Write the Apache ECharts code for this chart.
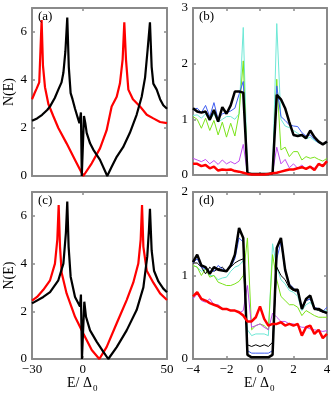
<!DOCTYPE html>
<html>
<head>
<meta charset="utf-8">
<script src="https://cdn.jsdelivr.net/npm/echarts@6/dist/echarts.min.js"></script>
<style>
  html, body { margin: 0; padding: 0; background: #fff; }
  #chart { width: 334px; height: 400px; }
</style>
</head>
<body>
<div id="chart"></div>
<script>
// panel (a) and (c): [E, N(E)] pairs
const aRed = [[-30, 3.2], [-28.5, 3.45], [-27.2, 3.65], [-25.7, 3.9], [-25, 5.2], [-24.3, 6.5], [-23.5, 4.6], [-22.3, 3.7],
  [-20.3, 3.0], [-17.4, 2.5], [-14.4, 2.0], [-9.5, 1.36], [-4.5, 0.67], [0.4, 0], [5.4, 0.53], [10.3, 1.15],
  [14.2, 1.9], [17.2, 2.9], [20.2, 3.3], [22.1, 3.85], [23.7, 4.85], [24.7, 6.4], [25.7, 4.85], [27.1, 3.6],
  [29.8, 3.2], [34, 2.9], [38, 2.55], [41.9, 2.4], [45.9, 2.25], [50, 2.2]];
const aBlack = [[-30, 2.3], [-27, 2.4], [-24, 2.55], [-21, 2.75], [-19.3, 2.9], [-16.5, 3.25], [-14.4, 3.6], [-12.5, 3.9],
  [-11.4, 4.3], [-10.2, 5.2], [-9.1, 6.6], [-8.2, 4.55], [-7.1, 3.45], [-6, 3.2], [-4.5, 2.8], [-3, 2.45],
  [-1.9, 2.2], [-1.5, 2.2], [-1.0, 2.65], [-0.5, 0], [0.3, 0], [0.8, 2.5], [1.6, 2.2], [2.4, 1.8], [4.4, 1.36],
  [6.3, 1.1], [10.3, 0.67], [14.6, 0], [17, 0.35], [20.2, 0.8], [24, 1.2], [28, 1.8], [32, 2.55], [35, 3.3],
  [37, 4.1], [38.5, 5.25], [39.9, 6.4], [40.9, 4.55], [41.9, 3.85], [43.9, 3.6], [45.9, 3.2], [47.8, 2.95], [50, 2.8]];
const cRed = [[-30, 2.45], [-27, 2.6], [-23.3, 2.9], [-19.3, 3.3], [-16.4, 4.0], [-15, 5.0], [-14.2, 6.45], [-13.4, 4.7],
  [-12.4, 3.6], [-9.5, 2.75], [-4.5, 1.77], [0.4, 1.07], [5.4, 0.38], [9.9, 0], [14.2, 0.5], [20.2, 1.5],
  [26.1, 2.47], [30, 3.2], [33, 4.0], [34.4, 5.0], [35.2, 6.45], [36, 4.7], [38, 3.7], [41.9, 3.2], [45.9, 2.75], [50, 2.47]];
const cBlack = [[-30, 2.33], [-23.3, 2.6], [-19.3, 2.8], [-14.4, 3.3], [-11.4, 4.0], [-9.9, 5.3], [-9.1, 6.6], [-8.3, 4.7],
  [-7.1, 3.45], [-4.5, 2.6], [-1.55, 2.2], [-1.0, 2.7], [-0.4, 0], [0.4, 0], [1.0, 2.4], [2.0, 1.77], [4.4, 1.2],
  [8.3, 0.73], [12.3, 0.3], [15.2, 0], [20.2, 0.5], [26.1, 1.2], [32, 2.05], [36, 3.0], [38.3, 4.3], [39.3, 5.4],
  [39.9, 6.3], [40.9, 4.55], [42.3, 3.7], [44.9, 3.25], [47.8, 2.95], [50, 2.8]];

// panel (b) and (d): values on the energy grid
const eGrid = [-4, -3.75, -3.5, -3.25, -3, -2.75, -2.5, -2.25, -2, -1.75, -1.5, -1.25, -1, -0.75, -0.5, -0.25, 0,
  0.25, 0.5, 0.75, 1, 1.25, 1.5, 1.75, 2, 2.25, 2.5, 2.75, 3, 3.25, 3.5, 3.75, 4];
const bBlack = [1.2, 1.14, 1.12, 1.14, 0.99, 1.17, 0.96, 1.22, 1.1, 1.25, 1.5, 1.5, 1.48, 0.03, 0.02, 0.02, 0.02,
  0.02, 0.02, 0.03, 1.44, 1.36, 1.2, 0.95, 0.72, 0.7, 0.72, 0.66, 0.8, 0.68, 0.6, 0.55, 0.6];
const bBlue = [1.17, 1.2, 1.12, 1.25, 1.05, 1.3, 1.0, 1.1, 1.12, 1.15, 1.2, 1.45, 1.68, 0.03, 0.02, 0.02, 0.02,
  0.02, 0.02, 0.03, 1.6, 1.05, 0.98, 0.9, 0.88, 0.87, 0.76, 0.7, 0.72, 0.64, 0.58, 0.56, 0.6];
const bCyan = [1.07, 1.08, 1.02, 1.1, 0.98, 1.1, 0.95, 1.0, 1.05, 1.05, 1.0, 1.1, 2.65, 0.03, 0.02, 0.02, 0.02,
  0.02, 0.02, 0.03, 2.72, 1.0, 0.88, 0.85, 0.8, 0.75, 0.7, 0.65, 0.68, 0.62, 0.58, 0.55, 0.58];
const bGreen = [1.05, 1.0, 0.84, 1.02, 0.8, 0.98, 0.72, 0.95, 0.68, 0.93, 0.7, 1.1, 2.05, 0.03, 0.02, 0.02, 0.02,
  0.02, 0.02, 0.04, 1.72, 0.45, 0.5, 0.33, 0.42, 0.42, 0.27, 0.33, 0.3, 0.32, 0.28, 0.25, 0.3];
const bPurple = [0.3, 0.27, 0.24, 0.28, 0.2, 0.26, 0.19, 0.27, 0.2, 0.24, 0.2, 0.25, 0.55, 0.03, 0.02, 0.02, 0.02,
  0.02, 0.02, 0.04, 0.5, 0.2, 0.28, 0.13, 0.2, 0.12, 0.18, 0.1, 0.15, 0.12, 0.2, 0.15, 0.25];
const bRed = [0.2, 0.2, 0.16, 0.18, 0.12, 0.15, 0.08, 0.1, 0.09, 0.1, 0.07, 0.06, 0.04, 0.02, 0.01, 0.01, 0.01,
  0.01, 0.02, 0.03, 0.04, 0.06, 0.08, 0.1, 0.1, 0.12, 0.14, 0.11, 0.15, 0.09, 0.2, 0.16, 0.25];

const dBlack = [1.16, 1.25, 1.12, 1.1, 1.02, 1.1, 1.07, 1.06, 1.05, 1.12, 1.25, 1.57, 1.45, 0.05, 0.02, 0.02, 0.02,
  0.02, 0.02, 0.05, 1.33, 1.45, 1.07, 0.88, 0.83, 0.83, 0.6, 0.72, 0.76, 0.6, 0.6, 0.57, 0.55];
const dBlackThin = [1.15, 1.15, 1.1, 1.02, 1.1, 1.05, 1.08, 1.1, 1.05, 1.1, 1.15, 1.18, 1.2, 0.17, 0.15, 0.17, 0.15,
  0.17, 0.15, 0.2, 1.1, 1.0, 0.95, 0.85, 0.82, 0.8, 0.62, 0.7, 0.72, 0.6, 0.58, 0.56, 0.56];
const dBlue = [1.15, 1.2, 1.1, 1.08, 1.05, 1.05, 1.12, 1.08, 1.05, 1.1, 1.2, 1.45, 1.4, 0.1, 0.07, 0.07, 0.07,
  0.07, 0.07, 0.1, 1.2, 1.4, 1.05, 0.9, 0.85, 0.8, 0.62, 0.7, 0.72, 0.62, 0.6, 0.57, 0.62];
const dCyan = [1.12, 1.1, 1.05, 1.08, 1.0, 1.0, 0.95, 0.97, 0.98, 1.05, 1.1, 1.12, 1.18, 0.35, 0.28, 0.3, 0.3,
  0.3, 0.28, 1.38, 1.1, 0.95, 0.9, 0.82, 0.8, 0.75, 0.58, 0.65, 0.68, 0.6, 0.58, 0.57, 0.58];
const dGreen = [1.12, 1.1, 1.0, 1.08, 0.98, 1.0, 0.92, 0.9, 0.88, 0.88, 0.9, 0.93, 1.0, 1.45, 0.35, 0.4, 0.42,
  0.4, 0.35, 1.25, 0.95, 0.75, 0.7, 0.65, 0.65, 0.62, 0.52, 0.58, 0.55, 0.52, 0.5, 0.5, 0.5];
const dPurple = [0.72, 0.78, 0.7, 0.68, 0.72, 0.65, 0.65, 0.6, 0.6, 0.58, 0.58, 0.55, 0.58, 0.88, 0.38, 0.4, 0.42,
  0.38, 0.35, 0.55, 0.5, 0.45, 0.45, 0.42, 0.42, 0.4, 0.38, 0.38, 0.36, 0.35, 0.34, 0.33, 0.34];
const dRed = [0.75, 0.8, 0.72, 0.7, 0.67, 0.65, 0.63, 0.6, 0.6, 0.58, 0.58, 0.56, 0.52, 0.45, 0.45, 0.5, 0.63,
  0.48, 0.4, 0.42, 0.42, 0.44, 0.4, 0.42, 0.4, 0.42, 0.28, 0.38, 0.4, 0.3, 0.35, 0.25, 0.3];

const leftTicksX = [-30, 0, 50];
const leftTicksY = [0, 2, 4, 6];

const FONT = '"Liberation Serif", "DejaVu Serif", serif';
const AXIS_GREY = '#8a8a8a';

const chart = echarts.init(document.getElementById('chart'));

const grids = [
  { left: 32, top: 8, width: 135, height: 168 },   // (a)
  { left: 193, top: 8, width: 134, height: 167 },  // (b)
  { left: 32, top: 192, width: 135, height: 167 }, // (c)
  { left: 193, top: 192, width: 134, height: 167 } // (d)
].map(g => Object.assign({ outerBoundsMode: 'none', containLabel: false }, g));

const tickLabel = { fontFamily: FONT, fontSize: 13, color: '#000' };

function makeX(gridIndex, position, opts) {
  const showLabel = !!opts.showLabel;
  const ax = {
    type: 'value', gridIndex, position, min: opts.min, max: opts.max,
    axisLine: { show: true, onZero: false, lineStyle: { color: AXIS_GREY, width: 2 } },
    axisTick: { show: true, inside: true, length: 3, lineStyle: { color: AXIS_GREY, width: 1.5 } },
    axisLabel: Object.assign({ show: showLabel, margin: 4,
      formatter: v => String(v).replace('-', '\u2212') }, tickLabel),
    splitLine: { show: false }
  };
  if (opts.custom) {
    ax.axisTick.customValues = opts.custom;
    ax.axisLabel.customValues = opts.custom;
  } else {
    ax.interval = opts.interval;
  }
  return ax;
}

function makeY(gridIndex, position, opts) {
  const ax = {
    type: 'value', gridIndex, position, min: opts.min, max: opts.max,
    axisLine: { show: true, onZero: false, lineStyle: { color: AXIS_GREY, width: 2 } },
    axisTick: { show: true, inside: true, length: 3, lineStyle: { color: AXIS_GREY, width: 1.5 } },
    axisLabel: Object.assign({ show: position === 'left', margin: 5 }, tickLabel),
    splitLine: { show: false }
  };
  if (opts.custom) {
    ax.axisTick.customValues = opts.custom;
    ax.axisLabel.customValues = opts.custom;
  } else {
    ax.interval = opts.interval;
  }
  if (opts.name) {
    ax.name = opts.name;
    ax.nameLocation = 'middle';
    ax.nameGap = 16;
    ax.nameTextStyle = { fontFamily: FONT, fontSize: 14, color: '#000' };
  }
  return ax;
}

const xAxes = [
  makeX(0, 'bottom', { min: -30, max: 50, custom: leftTicksX }),
  makeX(1, 'bottom', { min: -4, max: 4, interval: 2 }),
  makeX(2, 'bottom', { min: -30, max: 50, custom: leftTicksX, showLabel: true }),
  makeX(3, 'bottom', { min: -4, max: 4, interval: 2, showLabel: true }),
  makeX(0, 'top', { min: -30, max: 50, custom: leftTicksX }),
  makeX(1, 'top', { min: -4, max: 4, interval: 2 }),
  makeX(2, 'top', { min: -30, max: 50, custom: leftTicksX }),
  makeX(3, 'top', { min: -4, max: 4, interval: 2 })
];
const yAxes = [
  makeY(0, 'left', { min: 0, max: 7, custom: leftTicksY, name: 'N(E)' }),
  makeY(1, 'left', { min: 0, max: 3, interval: 1 }),
  makeY(2, 'left', { min: 0, max: 7, custom: leftTicksY, name: 'N(E)' }),
  makeY(3, 'left', { min: 0, max: 2, interval: 1 }),
  makeY(0, 'right', { min: 0, max: 7, custom: leftTicksY }),
  makeY(1, 'right', { min: 0, max: 3, interval: 1 }),
  makeY(2, 'right', { min: 0, max: 7, custom: leftTicksY }),
  makeY(3, 'right', { min: 0, max: 2, interval: 1 })
];

function line(idx, data, color, width) {
  return {
    type: 'line', xAxisIndex: idx, yAxisIndex: idx, data,
    showSymbol: false, symbol: 'none', animation: false,
    lineStyle: { color, width }, z: 2
  };
}
const onGrid = vals => vals.map((v, i) => [eGrid[i], v]);

const C_BLUE = '#3f5cf0', C_CYAN = '#6ee8d6', C_GREEN = '#7be31a', C_PURPLE = '#c04af0';

const series = [
  line(0, aRed, '#ff0000', 2.2),
  line(0, aBlack, '#000000', 2.2),
  line(2, cRed, '#ff0000', 2.2),
  line(2, cBlack, '#000000', 2.2),

  line(1, onGrid(bCyan), C_CYAN, 1),
  line(1, onGrid(bGreen), C_GREEN, 1),
  line(1, onGrid(bPurple), C_PURPLE, 1),
  line(1, onGrid(bBlue), C_BLUE, 1),
  line(1, onGrid(bBlack), '#000000', 2.5),
  line(1, onGrid(bRed), '#ff0000', 2.5),

  line(3, onGrid(dCyan), C_CYAN, 1),
  line(3, onGrid(dGreen), C_GREEN, 1),
  line(3, onGrid(dPurple), C_PURPLE, 1),
  line(3, onGrid(dBlackThin), '#000000', 1),
  line(3, onGrid(dBlue), C_BLUE, 1),
  line(3, onGrid(dBlack), '#000000', 2.5),
  line(3, onGrid(dRed), '#ff0000', 2.5)
];

const panelLabel = (text, left, top) => ({
  type: 'text', left, top, z: 10,
  style: { text, fontFamily: FONT, fontSize: 13, fill: '#000' }
});
const axisTitle = (left) => ([
  { type: 'text', left, top: 376, style: { text: 'E/ \u0394', fontFamily: FONT, fontSize: 14, fill: '#000' } },
  { type: 'text', left: left + 26, top: 384, style: { text: '0', fontFamily: FONT, fontSize: 9, fill: '#000' } }
]);

chart.setOption({
  animation: false,
  backgroundColor: '#fff',
  grid: grids,
  xAxis: xAxes,
  yAxis: yAxes,
  series,
  graphic: [
    panelLabel('(a)', 38, 10),
    panelLabel('(b)', 199, 10),
    panelLabel('(c)', 38, 194),
    panelLabel('(d)', 199, 194),
    ...axisTitle(67),
    ...axisTitle(244)
  ]
});
</script>
</body>
</html>
